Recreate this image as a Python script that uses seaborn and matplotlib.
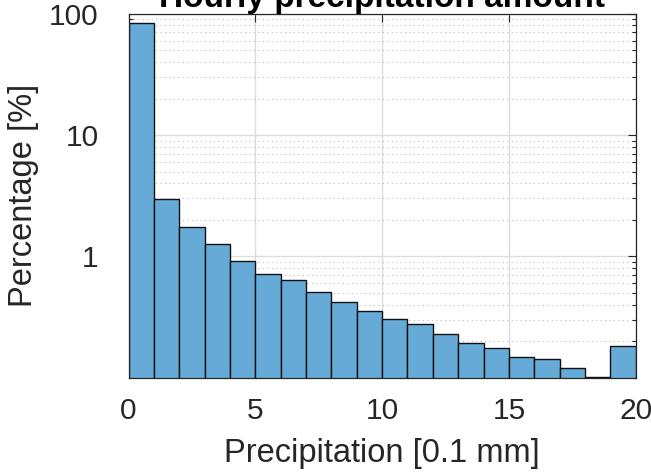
import numpy as np
import matplotlib
matplotlib.use("Agg")
import matplotlib.pyplot as plt
import seaborn as sns
from matplotlib.ticker import LogLocator, NullFormatter, FixedLocator

# Data: percentage of hours per precipitation bin (0.1 mm units)
bin_edges = list(range(0, 21))
percentages = [84.6, 2.97, 1.73, 1.27, 0.916, 0.72, 0.64, 0.509, 0.421, 0.357,
               0.305, 0.275, 0.231, 0.194, 0.175, 0.149, 0.143, 0.120, 0.102, 0.181]
x_ticks = [0, 5, 10, 15, 20]
y_ticks = [1, 10, 100]
y_tick_labels = ["1", "10", "100"]

sns.set_theme(style="white")
plt.rcParams["font.family"] = ["Liberation Sans", "DejaVu Sans"]

fig = plt.figure(figsize=(6.51, 4.73), dpi=100)
ax = fig.add_axes([128.5 / 651, (473 - 377.7) / 473, 507.2 / 651, 364.0 / 473])

centers = [(bin_edges[i] + bin_edges[i + 1]) / 2 for i in range(len(percentages))]
sns.histplot(x=centers, weights=percentages, bins=bin_edges, ax=ax,
             color="#66AAD7", edgecolor="#111111", linewidth=1.0, alpha=1.0)

ax.set_yscale("log")
ax.set_xlim(0, 20)
ax.set_ylim(0.1, 100)
ax.xaxis.set_major_locator(FixedLocator(x_ticks))
ax.yaxis.set_major_locator(FixedLocator(y_ticks))
ax.set_yticklabels(y_tick_labels)
ax.yaxis.set_minor_locator(LogLocator(base=10, subs=np.arange(2, 10), numticks=20))
ax.yaxis.set_minor_formatter(NullFormatter())

ax.set_axisbelow(True)
ax.grid(True, which="major", axis="both", color="#dcdcdc", linewidth=1.0, linestyle="-")
ax.grid(True, which="minor", axis="y", color="#bdbdbd", linewidth=0.8, linestyle=(0, (1, 3)))

for s in ax.spines.values():
    s.set_visible(True)
    s.set_color("#262626")
    s.set_linewidth(0.9)

tc = "#262626"
ax.tick_params(axis="both", which="both", direction="in", top=True, right=True,
               color=tc, width=0.8)
ax.tick_params(axis="both", which="major", length=6)
ax.tick_params(axis="y", which="minor", length=3, left=True, right=True)
ax.tick_params(axis="x", which="major", labelsize=21.5, labelcolor=tc, pad=14)
ax.tick_params(axis="y", which="major", labelsize=21.5, labelcolor=tc, pad=21.5)

ax.set_xlabel("Precipitation [0.1 mm]", fontsize=23.5, color=tc)
ax.set_ylabel("Percentage [%]", fontsize=23.5, color=tc)
ax.xaxis.set_label_coords(0.5, -0.165)
ax.yaxis.set_label_coords(-0.1765, 0.5)
ax.set_title("Hourly precipitation amount", fontsize=24, fontweight="bold",
             color="black", pad=4.8)

fig.savefig("out.png", dpi=100)
